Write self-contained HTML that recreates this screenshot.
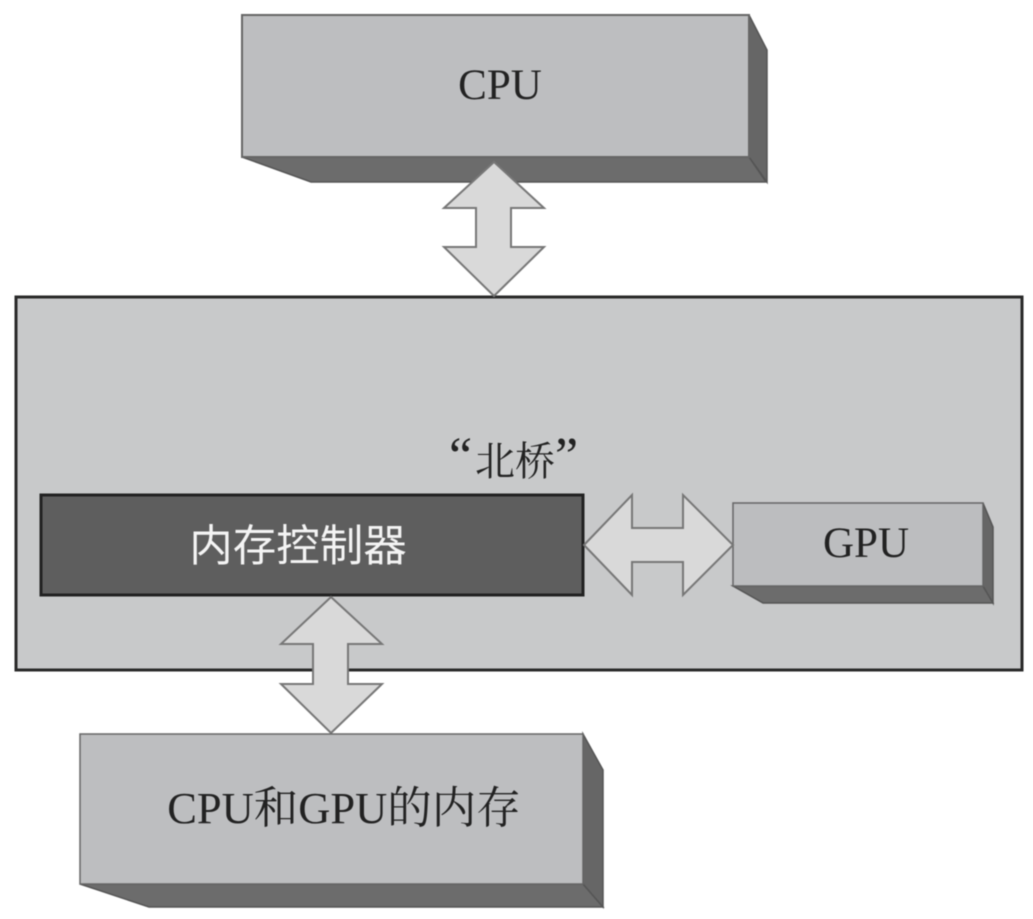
<!DOCTYPE html>
<html>
<head>
<meta charset="utf-8">
<style>
html,body{margin:0;padding:0;background:#fff;width:1033px;height:919px;overflow:hidden}
svg{display:block;filter:blur(0.5px)}
text{fill:#222}
</style>
</head>
<body>
<svg width="1033" height="919" viewBox="0 0 1033 919" xmlns="http://www.w3.org/2000/svg">
<!-- CPU box -->
<polygon points="242,157 749,157 766,182 311,182" fill="#6c6c6c" stroke="#555" stroke-width="1.5"/>
<polygon points="749,15 767,50 767,182 749,157" fill="#666" stroke="#555" stroke-width="1.5"/>
<rect x="242" y="15" width="507" height="142" fill="#bdbec0" stroke="#666" stroke-width="2"/>
<text x="500" y="99" font-family="Liberation Serif, serif" font-size="43" text-anchor="middle">CPU</text>

<!-- North bridge -->
<rect x="16" y="297" width="1006" height="373" fill="#c8c9ca" stroke="#2a2a2a" stroke-width="3"/>

<!-- CPU arrow -->
<polygon points="494,162 544,208 511,208 511,247 544,247 494,296 444,247 476,247 476,208 444,208" fill="#d9d9d9" stroke="#777" stroke-width="2"/>

<text y="475" font-family="Liberation Serif, 'Noto Serif CJK SC', serif" font-size="40"><tspan x="449" y="473" font-size="52">“</tspan><tspan x="475" y="475">北桥</tspan><tspan x="555" y="473" font-size="52">”</tspan></text>

<!-- Memory controller -->
<rect x="41" y="495" width="542" height="100" fill="#5e5e5e" stroke="#222" stroke-width="3"/>
<text x="298" y="561" font-family="Liberation Sans, 'Noto Sans CJK SC', sans-serif" font-size="43.5" text-anchor="middle" style="fill:#f4f4f4">内存控制器</text>

<!-- GPU box -->
<polygon points="733,586 983,586 993,603 763,603" fill="#6c6c6c" stroke="#555" stroke-width="1.5"/>
<polygon points="983,503 993,527 993,603 983,586" fill="#666" stroke="#555" stroke-width="1.5"/>
<rect x="733" y="503" width="250" height="83" fill="#bcbdbf" stroke="#666" stroke-width="1.5"/>
<text x="866" y="557" font-family="Liberation Serif, serif" font-size="43" text-anchor="middle">GPU</text>

<!-- Horizontal arrow -->
<polygon points="584,545 632,495 632,528 683,528 683,495 733,545 683,595 683,562 632,562 632,595" fill="#d9d9d9" stroke="#777" stroke-width="2"/>

<!-- Memory arrow -->
<polygon points="331,597 382,644 348,644 348,684 382,684 331,733 281,684 313,684 313,644 281,644" fill="#d9d9d9" stroke="#777" stroke-width="2"/>

<!-- Memory box -->
<polygon points="80,884 583,884 603,907 149,907" fill="#6c6c6c" stroke="#555" stroke-width="1.5"/>
<polygon points="583,734 603,770 603,907 583,884" fill="#666" stroke="#555" stroke-width="1.5"/>
<rect x="80" y="734" width="503" height="150" fill="#bdbec0" stroke="#666" stroke-width="1.5"/>
<text x="344" y="823" font-family="Liberation Serif, 'Noto Serif CJK SC', serif" font-size="44.5" text-anchor="middle">CPU和GPU的内存</text>
</svg>
</body>
</html>
